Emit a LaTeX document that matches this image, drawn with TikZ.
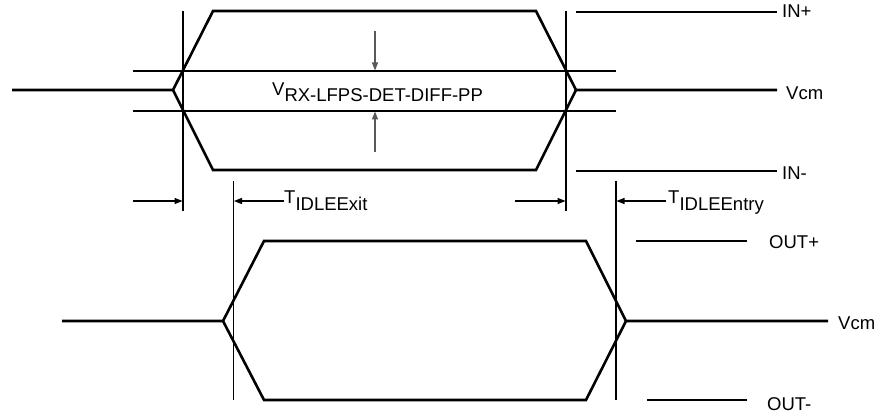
\documentclass[tikz,border=0pt]{standalone}
\usepackage{fontspec}
\setmainfont{Liberation Sans}
\usetikzlibrary{arrows.meta}
\begin{document}
\begin{tikzpicture}[x=1pt,y=-1pt,
  wave/.style={line width=2.6pt,line join=miter},
  thin/.style={line width=1.2pt},
  garrow/.style={line width=1.2pt,draw=black!65,-{Triangle[length=8pt,width=6pt]}},
  tarrow/.style={line width=1.2pt,-{Triangle[length=8pt,width=6pt]}},
  lbl/.style={anchor=base west,inner sep=0pt,font=\fontsize{18.5}{20}\selectfont}]
\useasboundingbox[fill=white] (0,0) rectangle (880,414);
% ---- top waveform coordinates
\coordinate (tL) at (12,90);
\coordinate (tV1) at (173,90);
\coordinate (tU1) at (213,11);
\coordinate (tD1) at (213,170);
\coordinate (tU2) at (536,11);
\coordinate (tD2) at (536,170);
\coordinate (tV2) at (576,90);
\coordinate (tR) at (777,90);
\draw[wave] (tL) -- (tV1) -- (tU1) -- (tU2) -- (tV2) -- (tR);
\draw[wave] (tV1) -- (tD1) -- (tD2) -- (tV2);
% ---- bottom waveform coordinates
\coordinate (bL) at (62,321);
\coordinate (bV1) at (223,321);
\coordinate (bU1) at (264,241);
\coordinate (bD1) at (264,400);
\coordinate (bU2) at (586,241);
\coordinate (bD2) at (586,400);
\coordinate (bV2) at (626,321);
\coordinate (bR) at (828,321);
\draw[wave] (bL) -- (bV1) -- (bU1) -- (bU2) -- (bV2) -- (bR);
\draw[wave] (bV1) -- (bD1) -- (bD2) -- (bV2);
% ---- vertical marker lines
\coordinate (m1a) at (183,11);  \coordinate (m1b) at (183,211);
\coordinate (m2a) at (566,11);  \coordinate (m2b) at (566,211);
\coordinate (m3a) at (233.5,181); \coordinate (m3b) at (233.5,400);
\coordinate (m4a) at (616,181); \coordinate (m4b) at (616,400);
\draw[thin] (m1a) -- (m1b);
\draw[thin] (m2a) -- (m2b);
\draw[thin] (m3a) -- (m3b);
\draw[thin] (m4a) -- (m4b);
% ---- threshold lines
\coordinate (h1a) at (133,71);  \coordinate (h1b) at (616,71);
\coordinate (h2a) at (133,111); \coordinate (h2b) at (616,111);
\draw[thin] (h1a) -- (h1b);
\draw[thin] (h2a) -- (h2b);
% ---- level reference lines
\coordinate (inpA) at (576,12);  \coordinate (inpB) at (777,12);
\coordinate (inmA) at (576,171); \coordinate (inmB) at (777,171);
\coordinate (opA) at (636,241);  \coordinate (opB) at (747,241);
\coordinate (omA) at (647,400);  \coordinate (omB) at (747,400);
\draw[thin] (inpA) -- (inpB);
\draw[thin] (inmA) -- (inmB);
\draw[thin] (opA) -- (opB);
\draw[thin] (omA) -- (omB);
% ---- differential threshold arrows
\coordinate (vaT) at (375,31);  \coordinate (vaB) at (375,70.5);
\coordinate (vbT) at (375,152); \coordinate (vbB) at (375,111.5);
\draw[garrow] (vaT) -- (vaB);
\draw[garrow] (vbT) -- (vbB);
% ---- timing arrows
\coordinate (ta1) at (133,201); \coordinate (ta2) at (182.5,201);
\coordinate (tb1) at (284,201); \coordinate (tb2) at (234,201);
\coordinate (tc1) at (515,201); \coordinate (tc2) at (565.5,201);
\coordinate (td1) at (666,201); \coordinate (td2) at (616.5,201);
\draw[tarrow] (ta1) -- (ta2);
\draw[tarrow] (tb1) -- (tb2);
\draw[tarrow] (tc1) -- (tc2);
\draw[tarrow] (td1) -- (td2);
% ---- labels
\node[lbl] (vlab) at (272,96) {V\raisebox{-6pt}{RX-LFPS-DET-DIFF-PP}};
\node[lbl] (texit) at (284,204) {T\raisebox{-6pt}{IDLEExit}};
\node[lbl] (tentry) at (668,204) {T\raisebox{-6pt}{IDLEEntry}};
\node[lbl] (inp) at (782,18) {IN+};
\node[lbl] (vcm1) at (786,100) {Vcm};
\node[lbl] (inm) at (782,179) {IN-};
\node[lbl] (outp) at (769,248) {OUT+};
\node[lbl] (vcm2) at (838,329) {Vcm};
\node[lbl] (outm) at (767,410.5) {OUT-};
\end{tikzpicture}
\end{document}
